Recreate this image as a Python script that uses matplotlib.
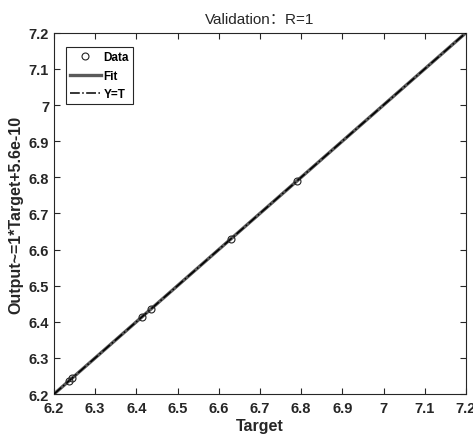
import numpy as np
import matplotlib
matplotlib.use("Agg")
import matplotlib.pyplot as plt

plt.rcParams['font.family'] = ['Liberation Sans', 'Noto Sans CJK SC']

# validation samples
target = [6.237, 6.245, 6.413, 6.435, 6.630, 6.790]
output = [6.237, 6.245, 6.413, 6.435, 6.630, 6.790]
slope = 1.0
intercept = 5.6e-10
ticks = [6.2, 6.3, 6.4, 6.5, 6.6, 6.7, 6.8, 6.9, 7.0, 7.1, 7.2]
tick_labels = ["6.2", "6.3", "6.4", "6.5", "6.6", "6.7", "6.8", "6.9", "7", "7.1", "7.2"]

fig = plt.figure(figsize=(4.73, 4.39), dpi=100)
ax = fig.add_axes([0.114, 0.100, 0.871, 0.823])

xs = np.array([6.2, 7.2])
ax.plot(target, output, 'o', mfc='none', mec='#222222', ms=5, mew=0.8, label='Data', zorder=4)
ax.plot(xs, slope * xs + intercept, color='#5a5a5a', lw=2.4, label='Fit', zorder=2)
ax.plot(xs, xs, color='black', lw=1.1, ls='-.', label='Y=T', zorder=3)

ax.set_xlim(6.2, 7.2)
ax.set_ylim(6.2, 7.2)
ax.set_xticks(ticks)
ax.set_xticklabels(tick_labels)
ax.set_yticks(ticks)
ax.set_yticklabels(tick_labels)
ax.tick_params(direction='in', top=True, right=True, length=4, width=0.8,
               labelsize=10.5, colors='#262626', labelcolor='#262626')
ax.tick_params(axis='x', pad=5)
for lab in ax.get_xticklabels() + ax.get_yticklabels():
    lab.set_fontweight('bold')
for sp in ax.spines.values():
    sp.set_color('#262626')
    sp.set_linewidth(0.8)

ax.set_title('Validation：R=1', fontsize=11, color='#262626', pad=7)
ax.set_xlabel('Target', fontsize=11.5, fontweight='bold', color='#262626', labelpad=2)
ax.set_ylabel('Output~=1*Target+5.6e-10', fontsize=11.5, fontweight='bold', color='#262626', labelpad=4)

leg = ax.legend(loc='upper left', bbox_to_anchor=(0.02, 0.97), fancybox=False,
                edgecolor='#262626', framealpha=1, handlelength=2.6, handletextpad=0.25,
                prop={'weight': 'bold', 'size': 8.5}, borderpad=0.35, labelspacing=0.55,
                borderaxespad=0.3)
leg.get_frame().set_linewidth(0.8)

fig.savefig('out.png', dpi=100)
